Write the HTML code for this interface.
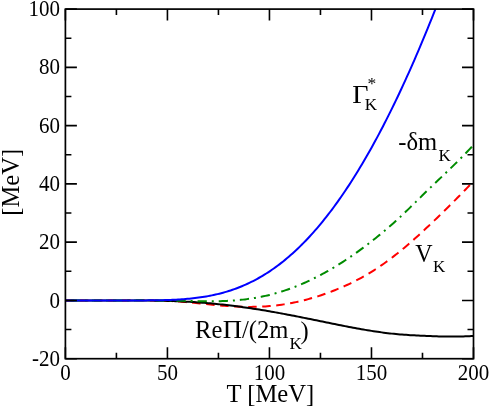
<!DOCTYPE html>
<html><head><meta charset="utf-8"><title>plot</title>
<style>
html,body{margin:0;padding:0;background:#fff;}
svg{display:block;will-change:transform;}
text{font-family:"Liberation Serif",serif;fill:#000;}
</style></head><body>
<svg width="491" height="408" viewBox="0 0 491 408">
<rect x="0" y="0" width="491" height="408" fill="#fff"/>
<defs><clipPath id="c"><rect x="65.4" y="9.1" width="408.10" height="349.60"/></clipPath></defs>

<g clip-path="url(#c)" fill="none" stroke-width="2" stroke-linejoin="round">
<path d="M473.50,181.08 L471.46,183.29 L469.42,185.45 L467.38,187.59 L465.34,189.70 L463.30,191.80 L461.26,193.89 L459.22,195.97 L457.18,198.03 L455.14,200.09 L453.10,202.13 L451.05,204.17 L449.01,206.20 L446.97,208.21 L444.93,210.22 L442.89,212.22 L440.85,214.21 L438.81,216.19 L436.77,218.16 L434.73,220.12 L432.69,222.07 L430.65,224.01 L428.61,225.94 L426.57,227.85 L424.53,229.76 L422.49,231.65 L420.45,233.53 L418.41,235.39 L416.37,237.23 L414.33,239.06 L412.28,240.87 L410.24,242.65 L408.20,244.42 L406.16,246.16 L404.12,247.89 L402.08,249.59 L400.04,251.26 L398.00,252.91 L395.96,254.53 L393.92,256.13 L391.88,257.70 L389.84,259.24 L387.80,260.76 L385.76,262.25 L383.72,263.70 L381.68,265.13 L379.64,266.53 L377.60,267.90 L375.56,269.24 L373.52,270.56 L371.48,271.84 L369.43,273.09 L367.39,274.31 L365.35,275.50 L363.31,276.66 L361.27,277.80 L359.23,278.90 L357.19,279.98 L355.15,281.03 L353.11,282.06 L351.07,283.06 L349.03,284.04 L346.99,284.99 L344.95,285.92 L342.91,286.82 L340.87,287.71 L338.83,288.57 L336.79,289.41 L334.75,290.23 L332.71,291.03 L330.66,291.82 L328.62,292.58 L326.58,293.32 L324.54,294.05 L322.50,294.75 L320.46,295.44 L318.42,296.10 L316.38,296.75 L314.34,297.38 L312.30,297.99 L310.26,298.58 L308.22,299.15 L306.18,299.69 L304.14,300.22 L302.10,300.73 L300.06,301.22 L298.02,301.69 L295.98,302.13 L293.94,302.56 L291.90,302.97 L289.86,303.35 L287.81,303.72 L285.77,304.06 L283.73,304.38 L281.69,304.69 L279.65,304.97 L277.61,305.23 L275.57,305.47 L273.53,305.69 L271.49,305.90 L269.45,306.08 L267.41,306.24 L265.37,306.39 L263.33,306.51 L261.29,306.62 L259.25,306.71 L257.21,306.78 L255.17,306.83 L253.13,306.87 L251.09,306.89 L249.05,306.89 L247.00,306.87 L244.96,306.84 L242.92,306.80 L240.88,306.74 L238.84,306.66 L236.80,306.58 L234.76,306.48 L232.72,306.36 L230.68,306.24 L228.64,306.10 L226.60,305.96 L224.56,305.80 L222.52,305.64 L220.48,305.46 L218.44,305.28 L216.40,305.10 L214.36,304.91 L212.32,304.71 L210.28,304.51 L208.24,304.30 L206.19,304.10 L204.15,303.89 L202.11,303.68 L200.07,303.48 L198.03,303.27 L195.99,303.07 L193.95,302.87 L191.91,302.67 L189.87,302.48 L187.83,302.29 L185.79,302.11 L183.75,301.94 L181.71,301.78 L179.67,301.62 L177.63,301.47 L175.59,301.33 L173.55,301.20 L171.51,301.08 L169.47,300.97 L167.43,300.87 L165.38,300.78 L163.34,300.70 L161.30,300.63 L159.26,300.56 L157.22,300.51 L155.18,300.47 L153.14,300.43 L151.10,300.40 L149.06,300.38 L147.02,300.36 L144.98,300.35 L142.94,300.34 L140.90,300.34 L138.86,300.34 L136.82,300.35 L134.78,300.35 L132.74,300.36 L130.70,300.37 L128.66,300.37 L126.62,300.38 L124.57,300.39 L122.53,300.40 L120.49,300.40 L118.45,300.41 L116.41,300.41 L114.37,300.42 L112.33,300.42 L110.29,300.42 L108.25,300.43 L106.21,300.43 L104.17,300.43 L102.13,300.43 L100.09,300.43 L98.05,300.43 L96.01,300.43 L93.97,300.43 L91.93,300.43 L89.89,300.43 L87.85,300.43 L85.81,300.43 L83.76,300.43 L81.72,300.43 L79.68,300.43 L77.64,300.43 L75.60,300.43 L73.56,300.43 L71.52,300.43 L69.48,300.43 L67.44,300.43 L65.40,300.43" stroke="#f00" stroke-dasharray="8.5 5.55" stroke-dashoffset="8.7"/>
<path d="M65.40,300.43 L67.44,300.43 L69.48,300.43 L71.52,300.43 L73.56,300.43 L75.60,300.43 L77.64,300.43 L79.68,300.43 L81.72,300.43 L83.76,300.43 L85.81,300.43 L87.85,300.43 L89.89,300.43 L91.93,300.43 L93.97,300.43 L96.01,300.43 L98.05,300.43 L100.09,300.43 L102.13,300.43 L104.17,300.43 L106.21,300.43 L108.25,300.43 L110.29,300.43 L112.33,300.43 L114.37,300.43 L116.41,300.43 L118.45,300.44 L120.49,300.44 L122.53,300.44 L124.57,300.44 L126.62,300.44 L128.66,300.44 L130.70,300.45 L132.74,300.45 L134.78,300.46 L136.82,300.47 L138.86,300.48 L140.90,300.49 L142.94,300.50 L144.98,300.52 L147.02,300.53 L149.06,300.55 L151.10,300.58 L153.14,300.60 L155.18,300.63 L157.22,300.67 L159.26,300.70 L161.30,300.75 L163.34,300.79 L165.38,300.84 L167.43,300.90 L169.47,300.96 L171.51,301.02 L173.55,301.09 L175.59,301.17 L177.63,301.25 L179.67,301.33 L181.71,301.43 L183.75,301.52 L185.79,301.63 L187.83,301.74 L189.87,301.86 L191.91,301.98 L193.95,302.11 L195.99,302.24 L198.03,302.38 L200.07,302.53 L202.11,302.69 L204.15,302.85 L206.19,303.02 L208.24,303.19 L210.28,303.37 L212.32,303.56 L214.36,303.75 L216.40,303.96 L218.44,304.16 L220.48,304.38 L222.52,304.60 L224.56,304.82 L226.60,305.06 L228.64,305.30 L230.68,305.54 L232.72,305.79 L234.76,306.05 L236.80,306.32 L238.84,306.59 L240.88,306.86 L242.92,307.14 L244.96,307.43 L247.00,307.73 L249.05,308.03 L251.09,308.33 L253.13,308.64 L255.17,308.96 L257.21,309.28 L259.25,309.60 L261.29,309.94 L263.33,310.27 L265.37,310.61 L267.41,310.96 L269.45,311.31 L271.49,311.67 L273.53,312.03 L275.57,312.39 L277.61,312.76 L279.65,313.13 L281.69,313.51 L283.73,313.89 L285.77,314.27 L287.81,314.66 L289.86,315.05 L291.90,315.44 L293.94,315.84 L295.98,316.24 L298.02,316.64 L300.06,317.04 L302.10,317.45 L304.14,317.86 L306.18,318.27 L308.22,318.68 L310.26,319.09 L312.30,319.51 L314.34,319.92 L316.38,320.34 L318.42,320.76 L320.46,321.18 L322.50,321.59 L324.54,322.01 L326.58,322.43 L328.62,322.84 L330.66,323.26 L332.71,323.67 L334.75,324.08 L336.79,324.49 L338.83,324.90 L340.87,325.31 L342.91,325.71 L344.95,326.11 L346.99,326.50 L349.03,326.90 L351.07,327.29 L353.11,327.67 L355.15,328.05 L357.19,328.43 L359.23,328.80 L361.27,329.16 L363.31,329.52 L365.35,329.87 L367.39,330.21 L369.43,330.55 L371.48,330.88 L373.52,331.20 L375.56,331.51 L377.60,331.81 L379.64,332.10 L381.68,332.38 L383.72,332.66 L385.76,332.91 L387.80,333.16 L389.84,333.40 L391.88,333.62 L393.92,333.84 L395.96,334.04 L398.00,334.22 L400.04,334.40 L402.08,334.57 L404.12,334.72 L406.16,334.87 L408.20,335.01 L410.24,335.14 L412.28,335.26 L414.33,335.37 L416.37,335.48 L418.41,335.58 L420.45,335.68 L422.49,335.78 L424.53,335.87 L426.57,335.96 L428.61,336.04 L430.65,336.12 L432.69,336.20 L434.73,336.27 L436.77,336.34 L438.81,336.40 L440.85,336.46 L442.89,336.50 L444.93,336.55 L446.97,336.58 L449.01,336.60 L451.05,336.61 L453.10,336.62 L455.14,336.61 L457.18,336.58 L459.22,336.55 L461.26,336.50 L463.30,336.45 L465.34,336.37 L467.38,336.29 L469.42,336.19 L471.46,336.09 L473.50,335.96" stroke="#000"/>
<path d="M473.50,145.15 L471.46,147.29 L469.42,149.42 L467.38,151.54 L465.34,153.64 L463.30,155.72 L461.26,157.79 L459.22,159.84 L457.18,161.87 L455.14,163.89 L453.10,165.89 L451.05,167.87 L449.01,169.84 L446.97,171.79 L444.93,173.74 L442.89,175.68 L440.85,177.62 L438.81,179.56 L436.77,181.50 L434.73,183.45 L432.69,185.40 L430.65,187.37 L428.61,189.34 L426.57,191.33 L424.53,193.32 L422.49,195.33 L420.45,197.34 L418.41,199.35 L416.37,201.36 L414.33,203.38 L412.28,205.38 L410.24,207.38 L408.20,209.36 L406.16,211.33 L404.12,213.28 L402.08,215.20 L400.04,217.11 L398.00,218.99 L395.96,220.85 L393.92,222.69 L391.88,224.50 L389.84,226.29 L387.80,228.05 L385.76,229.79 L383.72,231.51 L381.68,233.21 L379.64,234.89 L377.60,236.55 L375.56,238.19 L373.52,239.81 L371.48,241.41 L369.43,242.99 L367.39,244.55 L365.35,246.09 L363.31,247.62 L361.27,249.12 L359.23,250.61 L357.19,252.08 L355.15,253.53 L353.11,254.96 L351.07,256.37 L349.03,257.76 L346.99,259.13 L344.95,260.49 L342.91,261.82 L340.87,263.13 L338.83,264.42 L336.79,265.69 L334.75,266.94 L332.71,268.16 L330.66,269.37 L328.62,270.55 L326.58,271.72 L324.54,272.86 L322.50,273.97 L320.46,275.07 L318.42,276.14 L316.38,277.19 L314.34,278.22 L312.30,279.23 L310.26,280.21 L308.22,281.17 L306.18,282.10 L304.14,283.02 L302.10,283.91 L300.06,284.77 L298.02,285.61 L295.98,286.43 L293.94,287.23 L291.90,288.00 L289.86,288.75 L287.81,289.47 L285.77,290.17 L283.73,290.85 L281.69,291.50 L279.65,292.13 L277.61,292.74 L275.57,293.32 L273.53,293.88 L271.49,294.42 L269.45,294.93 L267.41,295.42 L265.37,295.89 L263.33,296.34 L261.29,296.76 L259.25,297.16 L257.21,297.54 L255.17,297.90 L253.13,298.24 L251.09,298.56 L249.05,298.86 L247.00,299.13 L244.96,299.39 L242.92,299.63 L240.88,299.85 L238.84,300.05 L236.80,300.23 L234.76,300.40 L232.72,300.55 L230.68,300.68 L228.64,300.80 L226.60,300.90 L224.56,300.99 L222.52,301.07 L220.48,301.13 L218.44,301.18 L216.40,301.22 L214.36,301.24 L212.32,301.26 L210.28,301.27 L208.24,301.27 L206.19,301.26 L204.15,301.24 L202.11,301.22 L200.07,301.19 L198.03,301.16 L195.99,301.12 L193.95,301.08 L191.91,301.03 L189.87,300.98 L187.83,300.94 L185.79,300.89 L183.75,300.84 L181.71,300.79 L179.67,300.74 L177.63,300.70 L175.59,300.65 L173.55,300.61 L171.51,300.57 L169.47,300.53 L167.43,300.50 L165.38,300.47 L163.34,300.44 L161.30,300.42 L159.26,300.40 L157.22,300.38 L155.18,300.37 L153.14,300.36 L151.10,300.35 L149.06,300.35 L147.02,300.35 L144.98,300.35 L142.94,300.35 L140.90,300.36 L138.86,300.36 L136.82,300.37 L134.78,300.38 L132.74,300.38 L130.70,300.39 L128.66,300.40 L126.62,300.40 L124.57,300.41 L122.53,300.42 L120.49,300.42 L118.45,300.42 L116.41,300.43 L114.37,300.43 L112.33,300.43 L110.29,300.43 L108.25,300.43 L106.21,300.43 L104.17,300.43 L102.13,300.43 L100.09,300.43 L98.05,300.43 L96.01,300.43 L93.97,300.43 L91.93,300.43 L89.89,300.43 L87.85,300.43 L85.81,300.43 L83.76,300.43 L81.72,300.43 L79.68,300.43 L77.64,300.43 L75.60,300.43 L73.56,300.43 L71.52,300.43 L69.48,300.43 L67.44,300.43 L65.40,300.43" stroke="#008b00" stroke-dasharray="9.25 4.95 2 4.95" stroke-dashoffset="-2.3"/>
<path d="M65.40,300.43 L67.28,300.43 L69.15,300.43 L71.03,300.43 L72.91,300.43 L74.79,300.43 L76.66,300.43 L78.54,300.43 L80.42,300.43 L82.30,300.43 L84.17,300.43 L86.05,300.43 L87.93,300.43 L89.80,300.43 L91.68,300.43 L93.56,300.43 L95.44,300.43 L97.31,300.43 L99.19,300.43 L101.07,300.43 L102.95,300.43 L104.82,300.43 L106.70,300.43 L108.58,300.43 L110.45,300.43 L112.33,300.43 L114.21,300.43 L116.09,300.43 L117.96,300.43 L119.84,300.43 L121.72,300.43 L123.60,300.43 L125.47,300.43 L127.35,300.43 L129.23,300.43 L131.10,300.43 L132.98,300.42 L134.86,300.42 L136.74,300.42 L138.61,300.41 L140.49,300.41 L142.37,300.40 L144.24,300.39 L146.12,300.38 L148.00,300.36 L149.88,300.35 L151.75,300.33 L153.63,300.31 L155.51,300.28 L157.39,300.25 L159.26,300.22 L161.14,300.18 L163.02,300.14 L164.89,300.09 L166.77,300.03 L168.65,299.97 L170.53,299.90 L172.40,299.82 L174.28,299.73 L176.16,299.64 L178.04,299.54 L179.91,299.42 L181.79,299.30 L183.67,299.16 L185.54,299.01 L187.42,298.86 L189.30,298.68 L191.18,298.50 L193.05,298.30 L194.93,298.08 L196.81,297.85 L198.69,297.61 L200.56,297.34 L202.44,297.06 L204.32,296.77 L206.19,296.45 L208.07,296.12 L209.95,295.76 L211.83,295.39 L213.70,294.99 L215.58,294.58 L217.46,294.14 L219.34,293.68 L221.21,293.20 L223.09,292.69 L224.97,292.16 L226.84,291.61 L228.72,291.03 L230.60,290.43 L232.48,289.80 L234.35,289.14 L236.23,288.46 L238.11,287.75 L239.99,287.01 L241.86,286.24 L243.74,285.44 L245.62,284.62 L247.49,283.77 L249.37,282.88 L251.25,281.97 L253.13,281.02 L255.00,280.04 L256.88,279.04 L258.76,278.00 L260.64,276.92 L262.51,275.82 L264.39,274.68 L266.27,273.51 L268.14,272.30 L270.02,271.06 L271.90,269.79 L273.78,268.48 L275.65,267.14 L277.53,265.76 L279.41,264.35 L281.28,262.90 L283.16,261.42 L285.04,259.90 L286.92,258.34 L288.79,256.74 L290.67,255.11 L292.55,253.44 L294.43,251.74 L296.30,250.00 L298.18,248.22 L300.06,246.40 L301.93,244.54 L303.81,242.65 L305.69,240.71 L307.57,238.74 L309.44,236.73 L311.32,234.68 L313.20,232.59 L315.08,230.46 L316.95,228.30 L318.83,226.09 L320.71,223.84 L322.58,221.56 L324.46,219.23 L326.34,216.87 L328.22,214.46 L330.09,212.01 L331.97,209.53 L333.85,207.00 L335.73,204.43 L337.60,201.83 L339.48,199.18 L341.36,196.49 L343.23,193.76 L345.11,190.99 L346.99,188.18 L348.87,185.33 L350.74,182.43 L352.62,179.50 L354.50,176.52 L356.38,173.51 L358.25,170.45 L360.13,167.35 L362.01,164.21 L363.88,161.03 L365.76,157.81 L367.64,154.54 L369.52,151.24 L371.39,147.89 L373.27,144.51 L375.15,141.08 L377.03,137.61 L378.90,134.10 L380.78,130.54 L382.66,126.95 L384.53,123.31 L386.41,119.64 L388.29,115.92 L390.17,112.16 L392.04,108.36 L393.92,104.51 L395.80,100.63 L397.68,96.71 L399.55,92.74 L401.43,88.73 L403.31,84.68 L405.18,80.60 L407.06,76.46 L408.94,72.29 L410.82,68.08 L412.69,63.83 L414.57,59.53 L416.45,55.19 L418.32,50.82 L420.20,46.40 L422.08,41.94 L423.96,37.44 L425.83,32.90 L427.71,28.32 L429.59,23.70 L431.47,19.03 L433.34,14.33 L435.22,9.59 L437.10,4.80 L438.97,-0.02 L440.85,-4.89" stroke="#00f"/>
</g>
<path d="M65.40,358.7 v-11.5 M65.40,9.1 v11.5 M116.41,358.7 v-6 M116.41,9.1 v6 M167.43,358.7 v-11.5 M167.43,9.1 v11.5 M218.44,358.7 v-6 M218.44,9.1 v6 M269.45,358.7 v-11.5 M269.45,9.1 v11.5 M320.46,358.7 v-6 M320.46,9.1 v6 M371.48,358.7 v-11.5 M371.48,9.1 v11.5 M422.49,358.7 v-6 M422.49,9.1 v6 M473.50,358.7 v-11.5 M473.50,9.1 v11.5 M65.4,358.70 h11.5 M473.5,358.70 h-11.5 M65.4,329.57 h6 M473.5,329.57 h-6 M65.4,300.43 h11.5 M473.5,300.43 h-11.5 M65.4,271.30 h6 M473.5,271.30 h-6 M65.4,242.17 h11.5 M473.5,242.17 h-11.5 M65.4,213.03 h6 M473.5,213.03 h-6 M65.4,183.90 h11.5 M473.5,183.90 h-11.5 M65.4,154.77 h6 M473.5,154.77 h-6 M65.4,125.63 h11.5 M473.5,125.63 h-11.5 M65.4,96.50 h6 M473.5,96.50 h-6 M65.4,67.37 h11.5 M473.5,67.37 h-11.5 M65.4,38.23 h6 M473.5,38.23 h-6 M65.4,9.10 h11.5 M473.5,9.10 h-11.5" stroke="#000" stroke-width="1.6" fill="none"/>
<rect x="65.4" y="9.1" width="408.10" height="349.60" fill="none" stroke="#000" stroke-width="1.7"/>
<text transform="translate(65.40,380.00) scale(1,1.06)" font-size="21" text-anchor="middle">0</text>
<text transform="translate(167.43,380.00) scale(1,1.06)" font-size="21" text-anchor="middle">50</text>
<text transform="translate(269.45,380.00) scale(1,1.06)" font-size="21" text-anchor="middle">100</text>
<text transform="translate(371.48,380.00) scale(1,1.06)" font-size="21" text-anchor="middle">150</text>
<text transform="translate(473.50,380.00) scale(1,1.06)" font-size="21" text-anchor="middle">200</text>
<text transform="translate(60.00,365.80) scale(1,1.06)" font-size="21" text-anchor="end">-20</text>
<text transform="translate(60.00,307.53) scale(1,1.06)" font-size="21" text-anchor="end">0</text>
<text transform="translate(60.00,249.27) scale(1,1.06)" font-size="21" text-anchor="end">20</text>
<text transform="translate(60.00,191.00) scale(1,1.06)" font-size="21" text-anchor="end">40</text>
<text transform="translate(60.00,132.73) scale(1,1.06)" font-size="21" text-anchor="end">60</text>
<text transform="translate(60.00,74.47) scale(1,1.06)" font-size="21" text-anchor="end">80</text>
<text transform="translate(60.00,16.20) scale(1,1.06)" font-size="21" text-anchor="end">100</text>
<text transform="translate(270.40,402.00) scale(1,1.04)" font-size="24.6" text-anchor="middle">T [MeV]</text>
<text transform="translate(18.5,182.3) rotate(-90) scale(1,1.04)" font-size="24.6" text-anchor="middle">[MeV]</text>
<text transform="translate(352.30,103.10) scale(1.14,1.0)" font-size="24.6">Γ</text><text transform="translate(364.70,109.70) scale(1,1.04)" font-size="17">K</text><text transform="translate(367.50,88.50) scale(1,1.0)" font-size="17.5">*</text>
<text transform="translate(398.30,150.30) scale(1,1.04)" font-size="24.6">-δm</text><text transform="translate(438.50,160.70) scale(1,1.04)" font-size="17">K</text>
<text transform="translate(415.20,262.20) scale(1,1.04)" font-size="24">V</text><text transform="translate(433.00,272.30) scale(1,1.04)" font-size="17">K</text>
<text transform="translate(195.10,338.40) scale(1,1.04)" font-size="24.6">Re</text><text transform="translate(222.70,338.40) scale(1.085,1.04)" font-size="24.6">Π</text><text transform="translate(242.00,338.40) scale(1,1.04)" font-size="24.6">/(2m</text><text transform="translate(289.60,348.70) scale(1,1.04)" font-size="17">K</text><text transform="translate(300.40,338.60) scale(1,1.04)" font-size="24.6">)</text>
</svg></body></html>
